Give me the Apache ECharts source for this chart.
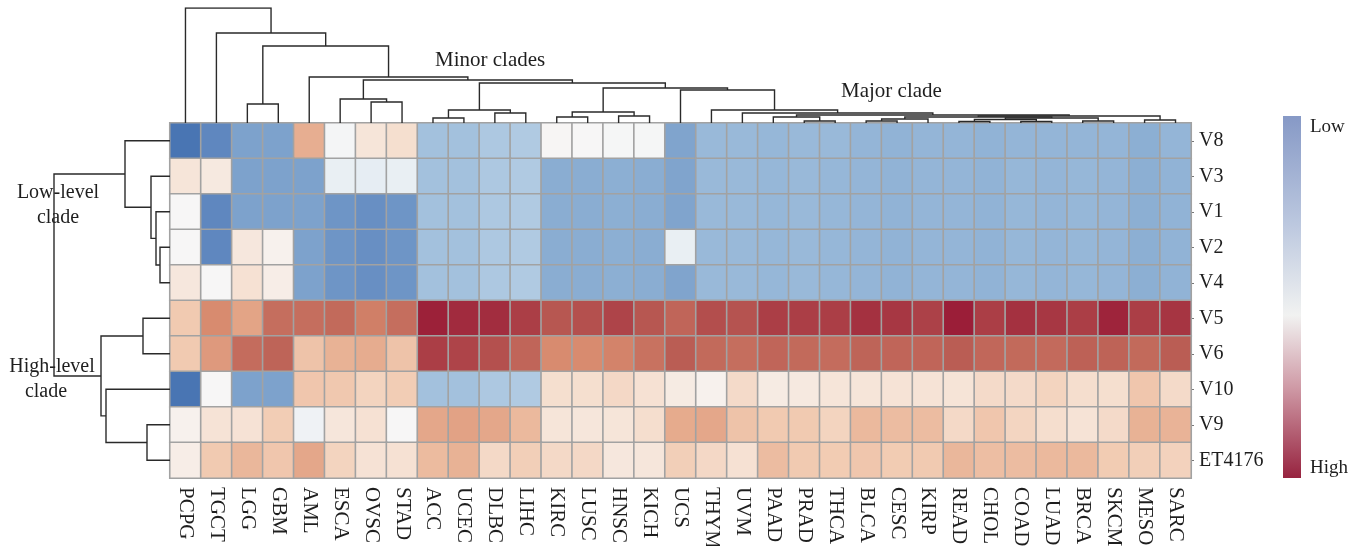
<!DOCTYPE html>
<html><head><meta charset="utf-8">
<script src="https://cdn.jsdelivr.net/npm/echarts@6/dist/echarts.min.js"></script>
<style>html,body{margin:0;padding:0;background:#fff}#c{width:1367px;height:546px}</style>
</head><body><div id="c"></div>
<script>
const columns = ['PCPG','TGCT','LGG','GBM','AML','ESCA','OVSC','STAD','ACC','UCEC','DLBC','LIHC','KIRC','LUSC','HNSC','KICH','UCS','THYM','UVM','PAAD','PRAD','THCA','BLCA','CESC','KIRP','READ','CHOL','COAD','LUAD','BRCA','SKCM','MESO','SARC'];
const rows = ['V8','V3','V1','V2','V4','V5','V6','V10','V9','ET4176'];

const V8 = [-2.9,-2.5,-2.0,-2.0,1.45,-0.05,0.45,0.6,-1.25,-1.25,-1.05,-1.0,0.05,0.02,-0.03,-0.03,-1.95,-1.45,-1.45,-1.5,-1.45,-1.45,-1.55,-1.6,-1.55,-1.55,-1.6,-1.55,-1.55,-1.55,-1.55,-1.7,-1.55];
const V3 = [0.45,0.35,-2.0,-2.0,-2.0,-0.2,-0.25,-0.2,-1.25,-1.25,-1.05,-1.0,-1.75,-1.75,-1.7,-1.75,-1.95,-1.45,-1.45,-1.5,-1.45,-1.5,-1.55,-1.6,-1.55,-1.55,-1.6,-1.5,-1.55,-1.5,-1.55,-1.7,-1.6];
const V1 = [0.02,-2.5,-2.0,-2.0,-2.0,-2.25,-2.35,-2.25,-1.25,-1.25,-1.05,-1.0,-1.75,-1.75,-1.7,-1.75,-1.95,-1.45,-1.45,-1.5,-1.45,-1.5,-1.55,-1.6,-1.55,-1.55,-1.6,-1.5,-1.55,-1.5,-1.55,-1.7,-1.6];
const V2 = [0.02,-2.5,0.4,0.15,-2.0,-2.25,-2.35,-2.25,-1.25,-1.25,-1.05,-1.0,-1.75,-1.75,-1.7,-1.75,-0.2,-1.45,-1.45,-1.5,-1.45,-1.5,-1.55,-1.6,-1.55,-1.55,-1.6,-1.5,-1.55,-1.5,-1.55,-1.7,-1.6];
const V4 = [0.4,0.02,0.55,0.25,-2.0,-2.25,-2.35,-2.25,-1.25,-1.25,-1.05,-1.0,-1.75,-1.75,-1.7,-1.75,-1.95,-1.45,-1.45,-1.5,-1.45,-1.5,-1.55,-1.6,-1.55,-1.55,-1.6,-1.5,-1.55,-1.5,-1.55,-1.7,-1.6];
const V5 = [1.05,1.95,1.6,2.3,2.3,2.35,2.1,2.3,2.98,2.9,2.88,2.75,2.55,2.6,2.7,2.55,2.4,2.62,2.58,2.75,2.75,2.75,2.85,2.8,2.72,3.0,2.75,2.85,2.8,2.75,2.95,2.75,2.82];
const V6 = [1.05,1.75,2.32,2.42,1.15,1.4,1.48,1.15,2.75,2.7,2.6,2.4,1.95,1.95,2.05,2.25,2.5,2.35,2.3,2.4,2.35,2.32,2.42,2.4,2.4,2.5,2.38,2.35,2.34,2.45,2.43,2.35,2.5];
const V10 = [-2.9,0.02,-2.0,-2.0,1.1,1.08,0.85,1.0,-1.25,-1.25,-1.05,-1.0,0.6,0.6,0.75,0.55,0.3,0.15,0.7,0.3,0.35,0.45,0.45,0.5,0.5,0.48,0.7,0.7,0.85,0.62,0.6,1.1,0.7];
const V9 = [0.15,0.5,0.52,1.0,-0.12,0.42,0.55,0.02,1.55,1.62,1.55,1.3,0.45,0.42,0.45,0.62,1.5,1.55,1.15,1.05,1.05,0.85,1.3,1.25,1.25,0.72,1.1,0.82,0.62,0.5,0.7,1.4,1.38];
const ET4176 = [0.25,1.05,1.32,1.1,1.55,0.85,0.52,0.55,1.27,1.4,0.72,0.95,0.72,0.75,0.4,0.42,0.95,0.75,0.55,1.25,1.05,1.02,1.1,1.02,1.05,1.32,1.22,1.25,1.3,1.3,1.02,0.95,0.88];
const rowValues = [V8,V3,V1,V2,V4,V5,V6,V10,V9,ET4176];

// Column dendrogram merges: [left, right, height]; strings = leaves, numbers = earlier merge index
const colMerges = [
  ['ACC','UCEC',5],['DLBC','LIHC',10],[0,1,13],
  ['KIRC','LUSC',6],['HNSC','KICH',7],[3,4,11],
  ['PRAD','THCA',2],['PAAD',6,6],
  ['BLCA','CESC',2],[8,'KIRP',4],
  ['READ','CHOL',1.5],['COAD','LUAD',1.5],[10,11,3.5],
  ['BRCA','SKCM',2],[12,13,5],[9,14,6],
  ['MESO','SARC',3],[15,16,7],[7,17,8],
  ['UVM',18,10],['THYM',19,13],['UCS',20,33],
  [5,21,35],[2,22,40],
  ['OVSC','STAD',21],['ESCA',24,24],[25,23,43],
  ['AML',26,46],['LGG','GBM',19],[28,27,77],
  ['TGCT',29,90],['PCPG',30,115]
];
// Row dendrogram merges
const rowMerges = [
  ['V2','V4',10],['V1',0,14],['V3',1,19],['V8',2,45],
  ['V5','V6',27],['V9','ET4176',23],['V10',5,64],[4,6,69],[3,7,116]
];

const SERIF = '"Liberation Serif","DejaVu Serif",serif';
const TXT = '#1e1e1e';

function dendro(leaves, merges, vertical) {
  const pos = {}; leaves.forEach((n, i) => pos[n] = i);
  const nodes = [];
  const get = r => typeof r === 'number' ? nodes[r] : {p: pos[r], h: 0};
  const segs = [];
  merges.forEach(([a, b, h]) => {
    const A = get(a), B = get(b);
    const pts = [[A.p, A.h], [A.p, h], [B.p, h], [B.p, B.h]];
    segs.push({coords: vertical ? pts : pts.map(([p, hh]) => [hh, p])});
    nodes.push({p: (A.p + B.p) / 2, h: h});
  });
  return segs;
}

const heat = [];
rowValues.forEach((arr, r) => arr.forEach((v, c) => heat.push([c, r, v])));

const chart = echarts.init(document.getElementById('c'));
chart.setOption({
  animation: false,
  backgroundColor: '#ffffff',
  grid: [
    {left: 170, top: 123, width: 1021, height: 355, outerBoundsMode: 'none', containLabel: false},
    {left: 170, top: 8, width: 1021, height: 115, outerBoundsMode: 'none', containLabel: false},
    {left: 54, top: 123, width: 116, height: 355, outerBoundsMode: 'none', containLabel: false}
  ],
  xAxis: [
    {type: 'category', data: columns, gridIndex: 0, position: 'bottom',
     axisLine: {show: false}, axisTick: {show: false}, splitLine: {show: false},
     axisLabel: {rotate: -90, interval: 0, margin: 9, fontSize: 21, fontFamily: SERIF, color: TXT}},
    {type: 'value', gridIndex: 1, min: -0.5, max: columns.length - 0.5, show: false},
    {type: 'value', gridIndex: 2, min: 0, max: 116, inverse: true, show: false}
  ],
  yAxis: [
    {type: 'category', data: rows, gridIndex: 0, position: 'right', inverse: true,
     axisLine: {show: false}, axisTick: {show: true, length: 3, alignWithLabel: true, lineStyle: {color: '#777'}},
     splitLine: {show: false},
     axisLabel: {margin: 8, fontSize: 20, fontFamily: SERIF, color: TXT}},
    {type: 'value', gridIndex: 1, min: 0, max: 115, show: false},
    {type: 'value', gridIndex: 2, min: -0.5, max: rows.length - 0.5, inverse: true, show: false}
  ],
  visualMap: {
    show: false, type: 'continuous', min: -3, max: 3, seriesIndex: 0,
    inRange: {color: ['#4470b0','#5f87bf','#7da2cc','#96b7d8','#b0cae2','#d4e2ee','#f7f7f7','#f6e3d6','#f2cdb5','#e6ab8d','#d6876c','#ba5d54','#9b1e38']}
  },
  series: [
    {type: 'heatmap', xAxisIndex: 0, yAxisIndex: 0, data: heat,
     itemStyle: {borderColor: '#a2a2a2', borderWidth: 1.6}, emphasis: {disabled: true}},
    {type: 'lines', coordinateSystem: 'cartesian2d', xAxisIndex: 1, yAxisIndex: 1, polyline: true, silent: true,
     lineStyle: {color: '#2a2a2a', width: 1.4, opacity: 1}, data: dendro(columns, colMerges, true)},
    {type: 'lines', coordinateSystem: 'cartesian2d', xAxisIndex: 2, yAxisIndex: 2, polyline: true, silent: true,
     lineStyle: {color: '#2a2a2a', width: 1.4, opacity: 1}, data: dendro(rows, rowMerges, false)}
  ],
  graphic: [
    {type: 'text', left: 435, top: 50, style: {text: 'Minor clades', font: '21px ' + SERIF, fill: TXT}},
    {type: 'text', left: 841, top: 81, style: {text: 'Major clade', font: '21px ' + SERIF, fill: TXT}},
    {type: 'text', x: 58, y: 193, style: {text: 'Low-level', font: '20px ' + SERIF, fill: TXT, align: 'center', verticalAlign: 'middle'}},
    {type: 'text', x: 58, y: 218, style: {text: 'clade', font: '20px ' + SERIF, fill: TXT, align: 'center', verticalAlign: 'middle'}},
    {type: 'text', x: 52, y: 367, style: {text: 'High-level', font: '20px ' + SERIF, fill: TXT, align: 'center', verticalAlign: 'middle'}},
    {type: 'text', x: 46, y: 392, style: {text: 'clade', font: '20px ' + SERIF, fill: TXT, align: 'center', verticalAlign: 'middle'}},
    {type: 'rect', shape: {x: 1283, y: 116, width: 18, height: 362},
     style: {fill: new echarts.graphic.LinearGradient(0, 0, 0, 1, [
       {offset: 0, color: '#8699c6'}, {offset: 0.3, color: '#bcc8df'}, {offset: 0.55, color: '#f1f2f1'},
       {offset: 0.75, color: '#cf9aa6'}, {offset: 1, color: '#97233f'}])}},
    {type: 'text', x: 1310, y: 127, style: {text: 'Low', font: '19px ' + SERIF, fill: TXT, verticalAlign: 'middle'}},
    {type: 'text', x: 1310, y: 468, style: {text: 'High', font: '19px ' + SERIF, fill: TXT, verticalAlign: 'middle'}}
  ]
});
</script></body></html>
